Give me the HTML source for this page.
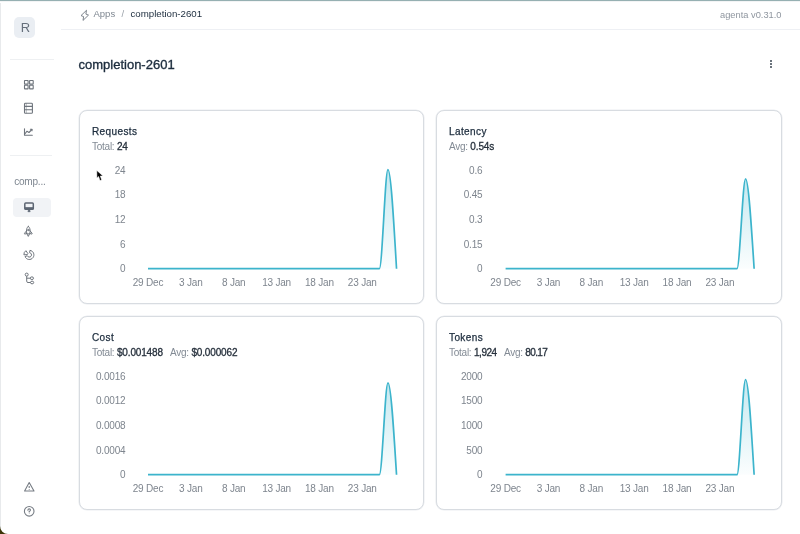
<!DOCTYPE html>
<html><head><meta charset="utf-8"><title>completion-2601</title>
<style>
html,body{margin:0;padding:0;background:#fff;}
body{width:800px;height:534px;position:relative;overflow:hidden;font-family:"Liberation Sans",Arial,sans-serif;color:#1c2c3d;}
.abs{position:absolute;}
.t{position:absolute;white-space:nowrap;line-height:1;}
.card{position:absolute;border:1px solid #d8dce1;border-radius:8px;box-sizing:border-box;background:#fff;box-shadow:0 0 0 0.6px #eceef1;}
.ct{position:absolute;left:12px;font-size:10px;letter-spacing:0.4px;color:#1c2c3d;font-weight:400;-webkit-text-stroke:0.25px #1c2c3d;white-space:nowrap;line-height:1;}
.cs{position:absolute;left:12px;font-size:10px;letter-spacing:-0.25px;color:#828a94;white-space:nowrap;line-height:1;}
.cs b{color:#27313d;font-weight:400;font-size:10px;letter-spacing:-0.15px;-webkit-text-stroke:0.3px #27313d;}
.gap{display:inline-block;width:7.2px;}
svg text{font-family:"Liberation Sans",Arial,sans-serif;font-size:10px;letter-spacing:-0.2px;fill:#7e858e;}
</style></head><body>
<div id="root" style="position:absolute;left:0;top:0;width:800px;height:534px;background:#fff;will-change:transform;">

<!-- frame edges -->
<div class="abs" style="left:0;top:0;width:800px;height:1px;background:#96b0b2;"></div>
<div class="abs" style="left:0;top:1px;width:800px;height:1px;background:#f3f4f5;"></div>
<div class="abs" style="left:0;top:3px;width:1px;height:531px;background:#e8eaec;"></div>
<svg class="abs" style="left:0;top:524px" width="10" height="10" viewBox="0 0 10 10"><path d="M0 10 L0 2 A8 8 0 0 0 8 10 Z" fill="#3d3408"/></svg>

<!-- sidebar -->
<div class="abs" style="left:14px;top:17px;width:21px;height:20.5px;background:#eaeef3;border-radius:5px;"></div>
<div class="t" style="left:20.7px;top:21px;font-size:13px;color:#66707c;">R</div>
<div class="abs" style="left:10px;top:59px;width:44px;height:1px;background:#eef0f2;"></div>

<!-- grid icon -->
<svg class="abs" style="left:22px;top:78px" width="14" height="14" viewBox="0 0 14 14" fill="none" stroke="#6e747c" stroke-width="1.1">
<rect x="2.5" y="2.5" width="3.6" height="3.6" rx="0.35"/><rect x="7.6" y="2.5" width="3.6" height="3.6" rx="0.35"/>
<rect x="2.5" y="7.3" width="3.6" height="3.6" rx="0.35"/><rect x="7.6" y="7.3" width="3.6" height="3.6" rx="0.35"/></svg>
<!-- table icon -->
<svg class="abs" style="left:22px;top:101px" width="14" height="14" viewBox="0 0 14 14" fill="none" stroke="#6e747c" stroke-width="1.1">
<rect x="2.5" y="2.3" width="7.9" height="10" rx="0.9"/><path d="M2.5 5.4 H10.4 M2.5 8.7 H10.4"/><path d="M4.3 2.3 V12.3" stroke-width="0.8" stroke-opacity="0.6"/></svg>
<!-- chart icon -->
<svg class="abs" style="left:22px;top:126px" width="14" height="12" viewBox="0 0 14 12" fill="none" stroke="#6e747c" stroke-width="1.1" stroke-linecap="round" stroke-linejoin="round">
<path d="M2.5 2.8 V9.3 H10.3"/><path d="M2.8 8 L5 5.2 L7 6.5 L9.8 3.5"/><path d="M8.4 3.3 L10 3.2 L10 4.8"/></svg>

<div class="abs" style="left:10px;top:155px;width:42px;height:1px;background:#eef0f2;"></div>
<div class="t" style="left:14.2px;top:176.9px;font-size:10px;letter-spacing:-0.2px;color:#7e8690;">comp...</div>

<div class="abs" style="left:13px;top:198px;width:38px;height:19px;background:#f1f3f6;border-radius:4px;"></div>
<!-- monitor -->
<svg class="abs" style="left:22px;top:200px" width="14" height="14" viewBox="0 0 14 14" fill="none" stroke="#5d6673" stroke-width="1.5" stroke-linejoin="round">
<rect x="2.8" y="3" width="8.5" height="6.3" rx="0.9"/><path d="M2.8 8.1 H11.3" stroke-width="1.9"/><path d="M5.9 11.7 L8.2 11.7 L7.6 9.8 L6.5 9.8 Z" fill="#5d6673" stroke-width="0.6"/></svg>
<!-- rocket -->
<svg class="abs" style="left:22px;top:224px" width="14" height="14" viewBox="0 0 14 14" fill="none" stroke="#6e747c" stroke-width="1" stroke-linejoin="round" stroke-linecap="round">
<path d="M6.3 2.4 C4.8 3.6 4.4 5.3 4.5 7.2 L4.8 9.9 H7.8 L8.1 7.2 C8.2 5.3 7.8 3.6 6.3 2.4 Z"/><path d="M4.5 6.9 L2.5 9.3 L2.7 10.1 L4.8 9.5 M8.1 6.9 L10.1 9.3 L9.9 10.1 L7.8 9.5"/><path d="M5.3 10.5 L6.3 12.4 L7.3 10.5"/><circle cx="6.3" cy="6" r="0.7"/></svg>
<!-- pie -->
<svg class="abs" style="left:22px;top:248px" width="14" height="14" viewBox="0 0 14 14" fill="none" stroke="#6e747c" stroke-width="1" stroke-linejoin="round">
<path d="M7.94 2.34 A4.6 4.6 0 1 1 3.03 8.62 L5.26 7.72 A2.2 2.2 0 1 0 7.61 4.72 Z"/><path d="M1.90 6.83 A4.6 4.6 0 0 1 3.92 2.69 L5.88 5.59 A1.1 1.1 0 0 0 5.39 6.58 Z"/></svg>
<!-- tree -->
<svg class="abs" style="left:22px;top:272px" width="14" height="14" viewBox="0 0 14 14" fill="none" stroke="#6e747c" stroke-width="1">
<circle cx="4.7" cy="2.6" r="1.5"/><ellipse cx="9.9" cy="6.2" rx="1.6" ry="1.35"/><ellipse cx="10.1" cy="10.5" rx="1.6" ry="1.35"/><path d="M4.7 4.1 V9.2 Q4.7 10.5 6 10.5 H8.5 M4.7 6.2 H8.3"/></svg>

<!-- warning -->
<svg class="abs" style="left:22px;top:480px" width="14" height="14" viewBox="0 0 14 14" fill="none" stroke="#767c84" stroke-width="1.1" stroke-linejoin="round">
<path d="M7.2 2.6 L12 11 L2.6 11 Z"/><path d="M7.2 6 V8"/><circle cx="7.2" cy="9.4" r="0.5" fill="#767c84" stroke="none"/></svg>
<!-- help -->
<svg class="abs" style="left:22px;top:504px" width="14" height="14" viewBox="0 0 14 14" fill="none" stroke="#767c84" stroke-width="1.1" stroke-linecap="round">
<circle cx="7.2" cy="7.3" r="4.8"/><path d="M5.9 6.2 Q5.9 4.9 7.2 4.9 Q8.5 4.9 8.5 6.1 Q8.5 6.9 7.2 7.4 V8"/><circle cx="7.2" cy="9.6" r="0.45" fill="#767c84" stroke="none"/></svg>

<!-- header -->
<svg class="abs" style="left:79px;top:9px" width="12" height="13" viewBox="0 0 12 13" fill="none" stroke="#6f7780" stroke-width="0.9" stroke-linejoin="round">
<path d="M7.5 1.3 L2 6.6 L4.6 7.6 L4 11.4 L9.5 6.1 L6.9 5.1 Z"/></svg>
<div class="t" style="left:93.5px;top:9px;font-size:9.5px;color:#7f8791;">Apps</div>
<div class="t" style="left:121.5px;top:9px;font-size:9.5px;color:#9aa1a9;">/</div>
<div class="t" style="left:130.5px;top:8.9px;font-size:9.7px;color:#1c2c3d;">completion-2601</div>
<div class="t" style="left:720px;top:10.7px;font-size:9.3px;color:#8f969f;">agenta v0.31.0</div>
<div class="abs" style="left:61px;top:29px;width:739px;height:1px;background:#eef0f4;"></div>

<!-- title -->
<div class="t" style="left:78.5px;top:58px;font-size:13px;color:#1c2c3d;-webkit-text-stroke:0.35px #1c2c3d;">completion-2601</div>
<div class="abs" style="left:770px;top:60px;width:2px;height:2px;background:#3a4451;border-radius:1px;"></div>
<div class="abs" style="left:770px;top:63.2px;width:2px;height:2px;background:#3a4451;border-radius:1px;"></div>
<div class="abs" style="left:770px;top:66.4px;width:2px;height:2px;background:#3a4451;border-radius:1px;"></div>

<!-- cards -->
<div class="card" style="left:79px;top:110px;width:345px;height:194px;">
  <div class="ct" style="top:16px;">Requests</div>
  <div class="cs" style="top:30.8px;">Total: <b>24</b></div>
</div>
<div class="card" style="left:436px;top:110px;width:346px;height:194px;">
  <div class="ct" style="top:16px;">Latency</div>
  <div class="cs" style="top:30.8px;">Avg: <b>0.54s</b></div>
</div>
<div class="card" style="left:79px;top:316px;width:345px;height:194px;">
  <div class="ct" style="top:16px;">Cost</div>
  <div class="cs" style="top:30.8px;">Total: <b>$0.001488</b><span class="gap"></span>Avg: <b>$0.000062</b></div>
</div>
<div class="card" style="left:436px;top:316px;width:346px;height:194px;">
  <div class="ct" style="top:16px;">Tokens</div>
  <div class="cs" style="top:30.8px;">Total: <b style="letter-spacing:-0.45px">1,924</b><span class="gap" style="width:7.2px"></span>Avg: <b style="letter-spacing:-0.6px">80.17</b></div>
</div>

<!-- charts -->
<svg class="abs" style="left:0;top:0" width="800" height="534" viewBox="0 0 800 534" id="charts">
<defs>
<linearGradient id="g" x1="0" y1="0" x2="0" y2="1"><stop offset="0" stop-color="#3cb4cc" stop-opacity="0.3"/><stop offset="1" stop-color="#3cb4cc" stop-opacity="0.02"/></linearGradient>
</defs>
<!--CH-->
<path d="M148.00 268.70 L379.39 268.70 C382.25 268.70 385.10 169.70 387.96 169.70 C390.82 169.70 393.67 219.20 396.53 268.70 L148.00 268.70 Z" fill="url(#g)"/>
<path d="M148.00 268.70 L379.39 268.70 C382.25 268.70 385.10 169.70 387.96 169.70 C390.82 169.70 393.67 219.20 396.53 268.70" fill="none" stroke="#3cb4cc" stroke-width="1.7" stroke-linejoin="round"/>
<text x="125.4" y="272.28" text-anchor="end">0</text>
<text x="125.4" y="247.98" text-anchor="end">6</text>
<text x="125.4" y="223.08" text-anchor="end">12</text>
<text x="125.4" y="197.98" text-anchor="end">18</text>
<text x="125.4" y="174.48" text-anchor="end">24</text>
<text x="148" y="285.6" text-anchor="middle">29 Dec</text>
<text x="190.85" y="285.6" text-anchor="middle">3 Jan</text>
<text x="233.7" y="285.6" text-anchor="middle">8 Jan</text>
<text x="276.55" y="285.6" text-anchor="middle">13 Jan</text>
<text x="319.4" y="285.6" text-anchor="middle">18 Jan</text>
<text x="362.25" y="285.6" text-anchor="middle">23 Jan</text>
<path d="M505.60 268.70 L736.99 268.70 C739.85 268.70 742.70 178.80 745.56 178.80 C748.42 178.80 751.27 223.75 754.13 268.70 L505.60 268.70 Z" fill="url(#g)"/>
<path d="M505.60 268.70 L736.99 268.70 C739.85 268.70 742.70 178.80 745.56 178.80 C748.42 178.80 751.27 223.75 754.13 268.70" fill="none" stroke="#3cb4cc" stroke-width="1.7" stroke-linejoin="round"/>
<text x="482.4" y="272.28" text-anchor="end">0</text>
<text x="482.4" y="247.98" text-anchor="end">0.15</text>
<text x="482.4" y="223.08" text-anchor="end">0.3</text>
<text x="482.4" y="197.98" text-anchor="end">0.45</text>
<text x="482.4" y="174.48" text-anchor="end">0.6</text>
<text x="505.6" y="285.6" text-anchor="middle">29 Dec</text>
<text x="548.45" y="285.6" text-anchor="middle">3 Jan</text>
<text x="591.3" y="285.6" text-anchor="middle">8 Jan</text>
<text x="634.15" y="285.6" text-anchor="middle">13 Jan</text>
<text x="677" y="285.6" text-anchor="middle">18 Jan</text>
<text x="719.85" y="285.6" text-anchor="middle">23 Jan</text>
<path d="M148.00 474.70 L379.39 474.70 C382.25 474.70 385.10 382.80 387.96 382.80 C390.82 382.80 393.67 428.75 396.53 474.70 L148.00 474.70 Z" fill="url(#g)"/>
<path d="M148.00 474.70 L379.39 474.70 C382.25 474.70 385.10 382.80 387.96 382.80 C390.82 382.80 393.67 428.75 396.53 474.70" fill="none" stroke="#3cb4cc" stroke-width="1.7" stroke-linejoin="round"/>
<text x="125.4" y="478.28" text-anchor="end">0</text>
<text x="125.4" y="453.98" text-anchor="end">0.0004</text>
<text x="125.4" y="429.08" text-anchor="end">0.0008</text>
<text x="125.4" y="403.98" text-anchor="end">0.0012</text>
<text x="125.4" y="380.48" text-anchor="end">0.0016</text>
<text x="148" y="491.6" text-anchor="middle">29 Dec</text>
<text x="190.85" y="491.6" text-anchor="middle">3 Jan</text>
<text x="233.7" y="491.6" text-anchor="middle">8 Jan</text>
<text x="276.55" y="491.6" text-anchor="middle">13 Jan</text>
<text x="319.4" y="491.6" text-anchor="middle">18 Jan</text>
<text x="362.25" y="491.6" text-anchor="middle">23 Jan</text>
<path d="M505.60 474.70 L736.99 474.70 C739.85 474.70 742.70 379.70 745.56 379.70 C748.42 379.70 751.27 427.20 754.13 474.70 L505.60 474.70 Z" fill="url(#g)"/>
<path d="M505.60 474.70 L736.99 474.70 C739.85 474.70 742.70 379.70 745.56 379.70 C748.42 379.70 751.27 427.20 754.13 474.70" fill="none" stroke="#3cb4cc" stroke-width="1.7" stroke-linejoin="round"/>
<text x="482.4" y="478.28" text-anchor="end">0</text>
<text x="482.4" y="453.98" text-anchor="end">500</text>
<text x="482.4" y="429.08" text-anchor="end">1000</text>
<text x="482.4" y="403.98" text-anchor="end">1500</text>
<text x="482.4" y="380.48" text-anchor="end">2000</text>
<text x="505.6" y="491.6" text-anchor="middle">29 Dec</text>
<text x="548.45" y="491.6" text-anchor="middle">3 Jan</text>
<text x="591.3" y="491.6" text-anchor="middle">8 Jan</text>
<text x="634.15" y="491.6" text-anchor="middle">13 Jan</text>
<text x="677" y="491.6" text-anchor="middle">18 Jan</text>
<text x="719.85" y="491.6" text-anchor="middle">23 Jan</text>
<!--/CH-->
</svg>

<!-- cursor -->
<svg class="abs" style="left:95px;top:169px" width="11" height="14" viewBox="0 0 11 14">
<path d="M1.8 1.4 L1.9 8.9 L3.6 7.4 L5 11.6 L6.7 11 L5.3 7 L7.9 6.9 Z" fill="#000" stroke="#fff" stroke-width="0.5" stroke-linejoin="round"/></svg>

</div>
</body></html>
